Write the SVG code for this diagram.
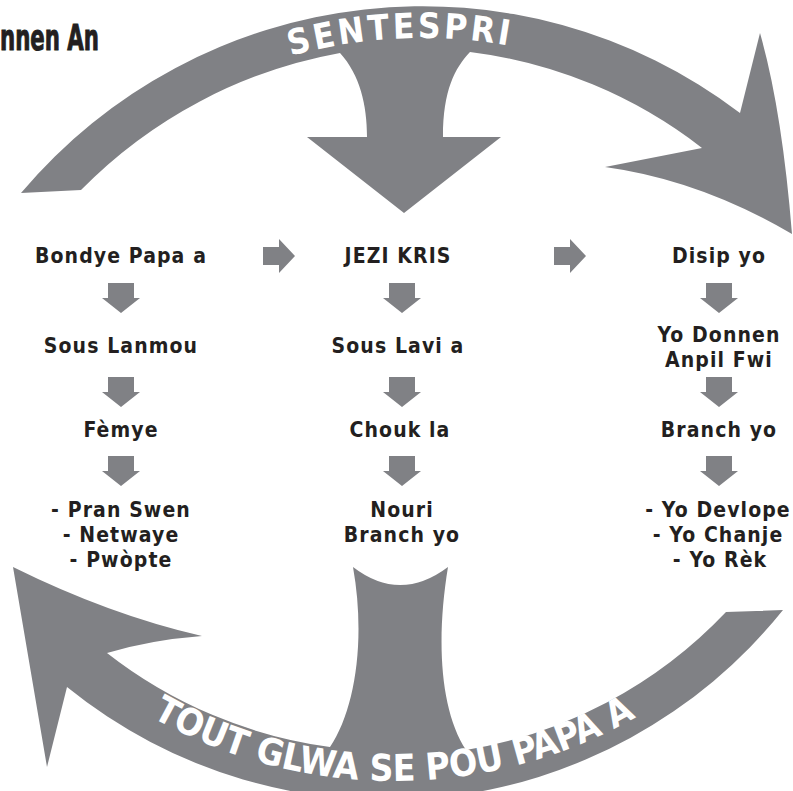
<svg xmlns="http://www.w3.org/2000/svg" width="793" height="791" viewBox="0 0 793 791">
  <defs>
    <style>
      .big { fill: #808185; }
      .arr { fill: #808185; }
      .lbl { font-family: "DejaVu Sans Condensed", "DejaVu Sans", sans-serif; font-stretch: condensed; font-weight: 700; font-size: 21px; letter-spacing: 1.1px; fill: #231f20; text-anchor: middle; }
      .band { font-family: "DejaVu Sans Condensed", "DejaVu Sans", sans-serif; font-stretch: condensed; font-weight: 700; fill: #ffffff; text-anchor: middle; }
      .title { font-family: "DejaVu Sans Condensed", "Liberation Sans", sans-serif; font-weight: 700; font-size: 36px; fill: #231f20; stroke: #231f20; stroke-width: 1; }
    </style>
    <path id="down" d="M-13,0 H13 V15 H19 L0,30 L-19,15 H-13 Z"/>
    <path id="right" d="M0,-9 H16 V-17 L32,0 L16,17 V9 H0 Z"/>
    <path id="topArcPath" d="M105.7,153.4 A493,493 0 0 1 704,126.2"/>
    <path id="botArcPath" d="M-31,536 A491,491 0 0 0 818.8,536"/>
  </defs>

  <rect width="793" height="791" fill="#ffffff"/>

  <g id="title">
    <text class="title" x="0" y="50" textLength="99" lengthAdjust="spacingAndGlyphs">nnen An</text>
  </g>

  <g id="cycle">
    <g id="arc-sentespri">
      <path class="big" d="M21,193 A525,525 0 0 1 740,113 L760,33 Q782,110 792,234 Q700,180 605,167 L702,148 A474,474 0 0 0 470,52 C455,68 443,90 443,137 L501,137 L404,213 L307,137 L367,137 C367,105 360,75 340,53 A483,483 0 0 0 81,190 Z"/>
      <text class="band" font-size="35" letter-spacing="3"><textPath href="#topArcPath" startOffset="50%">SENTESPRI</textPath></text>
    </g>
    <g id="arc-glwa">
      <path class="big" d="M783,610 A508,508 0 0 1 67,687 L47,767 L13,567 Q110,615 202,636 Q150,640 107,653 A462,462 0 0 0 330,747 C355,710 366,640 353,567 Q400,603 448,567 C436,640 440,710 466,750 A462,462 0 0 0 726,612 Z"/>
      <text class="band" font-size="37" letter-spacing="-0.2"><textPath href="#botArcPath" startOffset="50%">TOUT GLWA SE POU PAPA A</textPath></text>
    </g>
  </g>

  <g id="connectors">
    <use href="#right" class="arr" x="263" y="256"/>
    <use href="#right" class="arr" x="554" y="256"/>
    <use href="#down" class="arr" x="121" y="283"/>
    <use href="#down" class="arr" x="121" y="377"/>
    <use href="#down" class="arr" x="121" y="456"/>
    <use href="#down" class="arr" x="402" y="283"/>
    <use href="#down" class="arr" x="402" y="377"/>
    <use href="#down" class="arr" x="402" y="456"/>
    <use href="#down" class="arr" x="719" y="283"/>
    <use href="#down" class="arr" x="719" y="377"/>
    <use href="#down" class="arr" x="719" y="456"/>
  </g>

  <g id="n-bondye"><text class="lbl" x="121" y="263">Bondye Papa a</text></g>
  <g id="n-sous-lanmou"><text class="lbl" x="121" y="353">Sous Lanmou</text></g>
  <g id="n-femye"><text class="lbl" x="121" y="437">Fèmye</text></g>
  <g id="n-pran-swen">
    <text class="lbl" x="121" y="517">- Pran Swen<tspan x="121" dy="25">- Netwaye</tspan><tspan x="121" dy="25">- Pwòpte</tspan></text>
  </g>

  <g id="n-jezi"><text class="lbl" x="398" y="263">JEZI KRIS</text></g>
  <g id="n-sous-lavi"><text class="lbl" x="398" y="353">Sous Lavi a</text></g>
  <g id="n-chouk"><text class="lbl" x="400" y="437">Chouk la</text></g>
  <g id="n-nouri">
    <text class="lbl" x="402" y="517">Nouri<tspan x="402" dy="25">Branch yo</tspan></text>
  </g>

  <g id="n-disip"><text class="lbl" x="719" y="263">Disip yo</text></g>
  <g id="n-donnen">
    <text class="lbl" x="719" y="342">Yo Donnen<tspan x="719" dy="25">Anpil Fwi</tspan></text>
  </g>
  <g id="n-branch"><text class="lbl" x="719" y="437">Branch yo</text></g>
  <g id="n-devlope">
    <text class="lbl" x="718" y="517">- Yo Devlope<tspan x="718" dy="25">- Yo Chanje</tspan><tspan x="720" dy="25">- Yo Rèk</tspan></text>
  </g>
</svg>
